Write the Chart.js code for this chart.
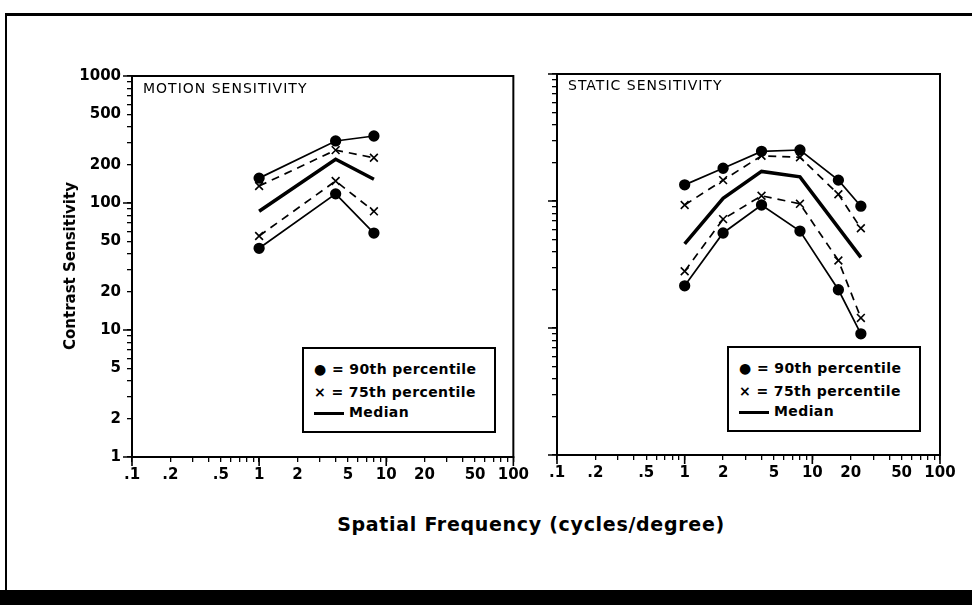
<!DOCTYPE html>
<html>
<head>
<meta charset="utf-8">
<script src="https://cdn.jsdelivr.net/npm/chart.js@4.4.0/dist/chart.umd.min.js"></script>
<style>
  body { margin: 0; background: #fff; }
  #wrap { position: relative; width: 972px; height: 605px; overflow: hidden; background: #fff; }
  canvas { position: absolute; top: 0; }
  .frame { position: absolute; left: 5px; top: 13px; width: 967px; height: 576px;
           border-top: 3px solid #000; border-left: 2px solid #000; }
  .bottomBar { position: absolute; left: 0; top: 590px; width: 972px; height: 15px; background: #000; }
  .panelTitle { position: absolute; font: 14px "DejaVu Sans", sans-serif; color: #000; letter-spacing: 1px; }
  .axisTitle { position: absolute; font: bold 16px "DejaVu Sans", sans-serif; color: #000; white-space: nowrap; }
  .legendBox { position: absolute; width: 190px; height: 82px; border: 2px solid #000; background: #fff;
               font: bold 14px "DejaVu Sans", sans-serif; color: #000; letter-spacing: 0.4px; }
  .legendBox div { position: absolute; left: 10px; white-space: nowrap; }
  .medLine { display: inline-block; width: 30px; height: 3px; background: #000; vertical-align: middle; margin-right: 5px; }
</style>
</head>
<body>
<div id="wrap">
  <div class="frame"></div>
  <div class="bottomBar"></div>
  <canvas id="motionChart" width="533" height="500" style="left:0"></canvas>
  <canvas id="staticChart" width="442" height="500" style="left:530px"></canvas>

  <div class="panelTitle" style="left:143px; top:80px">MOTION SENSITIVITY</div>
  <div class="panelTitle" style="left:568px; top:77px">STATIC SENSITIVITY</div>

  <div class="axisTitle" style="left:70px; top:266px; font-size:15px; transform: translate(-50%, -50%) rotate(-90deg)">Contrast Sensitivity</div>
  <div class="axisTitle" style="left:531px; top:524px; font-size:19px; letter-spacing:0.7px; transform: translate(-50%, -50%)">Spatial Frequency (cycles/degree)</div>

  <div class="legendBox" style="left:302px; top:347px">
    <div style="top:12px">● = 90th percentile</div>
    <div style="top:35px">× = 75th percentile</div>
    <div style="top:55px"><span class="medLine"></span>Median</div>
  </div>
  <div class="legendBox" style="left:727px; top:346px">
    <div style="top:12px">● = 90th percentile</div>
    <div style="top:35px">× = 75th percentile</div>
    <div style="top:55px"><span class="medLine"></span>Median</div>
  </div>
</div>

<script>
// Motion sensitivity (left panel)
const motionFreq = [1, 4, 8];
const motion90Hi = [157, 308, 337];
const motion75Hi = [136, 261, 227];
const motionMedian = [86, 221, 154];
const motion75Lo = [55, 149, 86];
const motion90Lo = [44, 118, 58];

// Static sensitivity (right panel)
const staticFreq = [1, 2, 4, 8, 16, 24];
const static90Hi = [134, 181, 246, 252, 146, 91];
const static75Hi = [93, 146, 227, 221, 113, 61];
const staticMedian = [46, 105, 171, 155, null, 36];
const static75Lo = [28, 72, 110, 95, 34, 12];
const static90Lo = [21.5, 56, 93, 58, 20, 9];

// Axis ticks
const xTickValues = [0.1, 0.2, 0.3, 0.4, 0.5, 0.6, 0.7, 0.8, 0.9,
                     1, 2, 3, 4, 5, 6, 7, 8, 9,
                     10, 20, 30, 40, 50, 60, 70, 80, 90, 100];
const xLabelValues = [0.1, 0.2, 0.5, 1, 2, 5, 10, 20, 50, 100];
const xTickLabels = ['.1', '.2', '.5', '1', '2', '5', '10', '20', '50', '100'];
const xMajor = [0.1, 1, 10, 100];

const yTickValues = [1, 2, 3, 4, 5, 6, 7, 8, 9,
                     10, 20, 30, 40, 50, 60, 70, 80, 90,
                     100, 200, 300, 400, 500, 600, 700, 800, 900, 1000];
const yLabelValues = [1, 2, 5, 10, 20, 50, 100, 200, 500, 1000];
const yTickLabels = ['1', '2', '5', '10', '20', '50', '100', '200', '500', '1000'];
const yMajor = [1, 10, 100, 1000];

function pairs(xs, ys) {
    return xs.map((x, i) => ({ x: x, y: ys[i] }));
}

function dataset(xs, ys, kind) {
    const d = { data: pairs(xs, ys), borderColor: '#000', backgroundColor: '#000', spanGaps: true };
    if (kind === 'p90') {
        d.borderWidth = 1.7; d.pointStyle = 'circle'; d.pointRadius = 4.8;
    } else if (kind === 'p75') {
        d.borderWidth = 1.7; d.borderDash = [8, 6]; d.pointStyle = 'crossRot';
        d.pointRadius = 5.5; d.pointBorderWidth = 1.6;
    } else {
        d.borderWidth = 3.5; d.pointRadius = 0;
    }
    return d;
}

function labelFor(values, labels, v) {
    const i = values.findIndex(t => Math.abs(t - v) < 1e-9);
    return i >= 0 ? labels[i] : '';
}

// frame round the plot box plus longer major ticks
const boxPlugin = {
    id: 'box',
    afterDraw(chart) {
        const a = chart.chartArea;
        const c = chart.ctx;
        c.save();
        c.strokeStyle = '#000';
        c.lineWidth = 2;
        c.strokeRect(a.left, a.top, a.right - a.left, a.bottom - a.top);
        c.lineWidth = 1.6;
        c.beginPath();
        xMajor.forEach(v => {
            const px = chart.scales.x.getPixelForValue(v);
            c.moveTo(px, a.bottom); c.lineTo(px, a.bottom + 9);
        });
        yMajor.forEach(v => {
            const py = chart.scales.y.getPixelForValue(v);
            c.moveTo(a.left - 9, py); c.lineTo(a.left, py);
        });
        c.stroke();
        c.restore();
    }
};

function makeChart(id, xs, series, opts) {
    return new Chart(document.getElementById(id).getContext('2d'), {
        type: 'line',
        data: {
            datasets: [
                dataset(xs, series[0], 'p90'),
                dataset(xs, series[1], 'p75'),
                dataset(xs, series[2], 'med'),
                dataset(xs, series[3], 'p75'),
                dataset(xs, series[4], 'p90')
            ]
        },
        options: {
            responsive: false,
            animation: false,
            devicePixelRatio: 1,
            layout: { padding: opts.padding },
            plugins: { legend: { display: false }, tooltip: { enabled: false } },
            scales: {
                x: {
                    type: 'logarithmic', min: 0.1, max: 100,
                    afterBuildTicks: s => { s.ticks = xTickValues.map(v => ({ value: v })); },
                    afterFit: s => { s.height = opts.xHeight; },
                    grid: { drawOnChartArea: false, tickLength: 5, color: '#000', lineWidth: 1.3 },
                    border: { color: '#000', width: 2 },
                    ticks: {
                        autoSkip: false, maxRotation: 0, padding: 4, color: '#000',
                        font: { family: 'DejaVu Sans', size: 15, weight: 'bold' },
                        callback: v => labelFor(xLabelValues, xTickLabels, v)
                    }
                },
                y: {
                    type: 'logarithmic', min: 1, max: 1000,
                    afterBuildTicks: s => { s.ticks = yTickValues.map(v => ({ value: v })); },
                    afterFit: s => { s.width = opts.yWidth; },
                    grid: { drawOnChartArea: false, tickLength: 5, color: '#000', lineWidth: 1.3 },
                    border: { color: '#000', width: 2 },
                    ticks: {
                        autoSkip: false, padding: 6, color: '#000',
                        font: { family: 'DejaVu Sans', size: 15, weight: 'bold' },
                        callback: v => opts.yLabels ? labelFor(yLabelValues, yTickLabels, v) : ''
                    }
                }
            }
        },
        plugins: [boxPlugin]
    });
}

makeChart('motionChart', motionFreq,
    [motion90Hi, motion75Hi, motionMedian, motion75Lo, motion90Lo],
    { padding: { top: 76, left: 0, right: 14, bottom: 20 }, xHeight: 23, yWidth: 132, yLabels: true });

makeChart('staticChart', staticFreq,
    [static90Hi, static75Hi, staticMedian, static75Lo, static90Lo],
    { padding: { top: 74, left: 0, right: 32, bottom: 20 }, xHeight: 25, yWidth: 27, yLabels: false });
</script>
</body>
</html>
